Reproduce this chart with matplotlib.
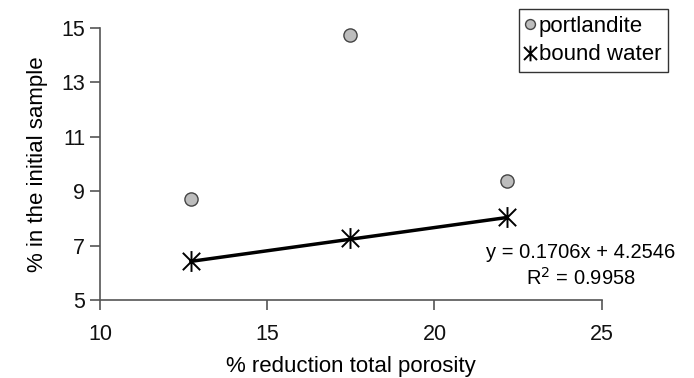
import matplotlib
matplotlib.use('Agg')
import matplotlib.pyplot as plt
import numpy as np
from matplotlib.path import Path

plt.rcParams['font.family'] = ['Liberation Sans', 'DejaVu Sans']

# values
porosity_reduction = [12.72, 17.47, 22.16]
portlandite = [8.71, 14.74, 9.37]
bound_water = [6.43, 7.27, 8.04]
fit_slope = 0.1706
fit_intercept = 4.2546
fit_label = 'y = 0.1706x + 4.2546\nR$^2$ = 0.9958'
x_ticks = [10, 15, 20, 25]
y_ticks = [5, 7, 9, 11, 13, 15]

# Excel-style asterisk: an X with a vertical bar
asterisk = Path(
    [(-1, -1), (1, 1), (-1, 1), (1, -1), (0, -1.2), (0, 1.2)],
    [Path.MOVETO, Path.LINETO, Path.MOVETO, Path.LINETO, Path.MOVETO, Path.LINETO],
)

fig = plt.figure(figsize=(6.94, 3.78), dpi=100)
ax = fig.add_axes([0.144, 0.206, 0.723, 0.72])

x = np.array(porosity_reduction)
ax.plot(x, fit_slope * x + fit_intercept, color='black', lw=2.5, zorder=2)
ax.plot(porosity_reduction, portlandite, 'o', ms=9.5, mfc='#bdbdbd', mec='#444444',
        mew=1.0, ls='none', label='portlandite', zorder=3)
ax.plot(porosity_reduction, bound_water, marker=asterisk, ms=15, mec='black',
        mew=1.4, ls='none', label='bound water', zorder=4)

ax.set_xlim(10, 25)
ax.set_ylim(5, 15)
ax.set_xticks(x_ticks)
ax.set_yticks(y_ticks)
for side in ('top', 'right'):
    ax.spines[side].set_visible(False)
for side in ('left', 'bottom'):
    ax.spines[side].set_color('#555555')
    ax.spines[side].set_linewidth(1.2)
ax.tick_params(axis='both', direction='out', length=7, width=1.2, color='#555555',
               labelsize=15.5, colors='#111111')
ax.tick_params(axis='x', pad=10)
ax.set_xlabel('% reduction total porosity', fontsize=16, labelpad=8)
ax.set_ylabel('% in the initial sample', fontsize=16, labelpad=10)

ax.text(0.958, 0.125, fit_label, transform=ax.transAxes, ha='center', va='center',
        fontsize=14.5, linespacing=1.3, clip_on=False)

leg = ax.legend(loc='upper right', bbox_to_anchor=(668 / 694, 1 - 9 / 378),
                bbox_transform=fig.transFigure, fontsize=16, frameon=True,
                fancybox=False, edgecolor='black', handlelength=0.4,
                handletextpad=0.2, borderpad=0.3, labelspacing=0.35,
                borderaxespad=0, markerscale=0.75)
leg.get_frame().set_linewidth(1.0)

fig.savefig('out.png', dpi=100)
